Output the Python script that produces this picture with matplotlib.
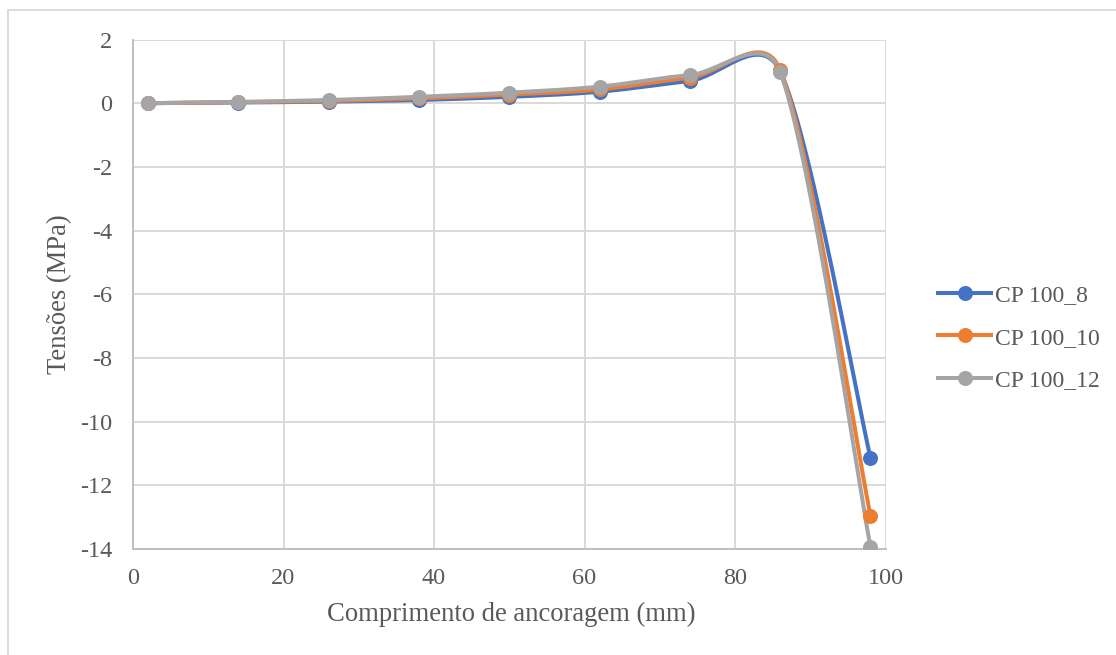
import numpy as np
import matplotlib
matplotlib.use("Agg")
import matplotlib.pyplot as plt
from matplotlib.lines import Line2D
from matplotlib.patches import Rectangle

# Anchorage length positions (mm) and measured stresses (MPa)
comprimento = [2, 14, 26, 38, 50, 62, 74, 86, 98]
cp100_8 = [0.0, 0.02, 0.05, 0.10, 0.20, 0.36, 0.70, 1.00, -11.13]
cp100_10 = [0.0, 0.03, 0.07, 0.15, 0.27, 0.43, 0.80, 1.05, -12.95]
cp100_12 = [0.0, 0.04, 0.10, 0.20, 0.33, 0.52, 0.88, 0.98, -13.93]

series_names = ["CP 100_8", "CP 100_10", "CP 100_12"]
series_colors = ["#4472C4", "#ED7D31", "#A5A5A5"]

x_ticks = [0, 20, 40, 60, 80, 100]
y_ticks = [2, 0, -2, -4, -6, -8, -10, -12, -14]

W, H, DPI = 1116, 655, 100
TEXT = "#595959"
GRID = "#D9D9D9"
FONT = "Liberation Serif"
TICK_SIZE = 17.5
TITLE_SIZE = 19.2
LEGEND_SIZE = 17
LINE_W = 2.9
MARKER = 10.8

fig = plt.figure(figsize=(W / DPI, H / DPI), dpi=DPI)
fig.patch.set_facecolor("white")

# chart frame
fig.patches.append(Rectangle((8 / W, -0.1), 1.2, 1 - 10 / H + 0.1,
                             transform=fig.transFigure, fill=False,
                             edgecolor="#D9D9D9", linewidth=1.3))

left, right, top, bottom = 133, 885.5, 39.5, 549
ax = fig.add_axes([left / W, 1 - bottom / H, (right - left) / W, (bottom - top) / H])
ax.set_xlim(0, 100)
ax.set_ylim(-14, 2)

# pixels per data unit, used so the smoothing works in screen space
sx = (right - left) / 100.0
sy = (bottom - top) / 16.0


def smooth_curve(xs, ys, n=40):
    pts = np.column_stack([np.asarray(xs, float) * sx, np.asarray(ys, float) * sy])
    out = []
    m = len(pts)
    for i in range(m - 1):
        p0 = pts[i - 1] if i > 0 else pts[i]
        p1 = pts[i]
        p2 = pts[i + 1]
        p3 = pts[i + 2] if i + 2 < m else pts[i + 1]
        d12 = np.linalg.norm(p2 - p1)
        d02 = np.linalg.norm(p2 - p0)
        d13 = np.linalg.norm(p3 - p1)
        f0 = 1 / 6 if d02 / 6 < d12 / 2 else (d12 / (2 * d02) if d02 > 0 else 0)
        f1 = 1 / 6 if d13 / 6 < d12 / 2 else (d12 / (2 * d13) if d13 > 0 else 0)
        c1 = p1 + (p2 - p0) * f0
        c2 = p2 - (p3 - p1) * f1
        t = np.linspace(0, 1, n)[:, None]
        seg = ((1 - t) ** 3) * p1 + 3 * ((1 - t) ** 2) * t * c1 + 3 * (1 - t) * t ** 2 * c2 + t ** 3 * p2
        out.append(seg if i == 0 else seg[1:])
    c = np.vstack(out)
    return c[:, 0] / sx, c[:, 1] / sy


for ys, name, col in zip([cp100_8, cp100_10, cp100_12], series_names, series_colors):
    cx, cy = smooth_curve(comprimento, ys)
    ax.plot(cx, cy, color=col, linewidth=LINE_W, solid_capstyle="round", zorder=3)
    ax.plot(comprimento, ys, linestyle="none", marker="o", markersize=MARKER,
            color=col, markeredgewidth=0, zorder=4)

ax.set_xticks(x_ticks)
ax.set_yticks(y_ticks)
ax.set_xticklabels([str(v) for v in x_ticks], fontsize=TICK_SIZE, color=TEXT, family=FONT)
ax.set_yticklabels([str(v) for v in y_ticks], fontsize=TICK_SIZE, color=TEXT, family=FONT)
ax.tick_params(axis="x", length=0, pad=14)
ax.tick_params(axis="y", length=0, pad=15)
ax.grid(True, color=GRID, linewidth=1.4, zorder=0)
ax.set_axisbelow(True)
for s in ["top", "right"]:
    ax.spines[s].set_visible(False)
for s in ["left", "bottom"]:
    ax.spines[s].set_color("#BFBFBF")
    ax.spines[s].set_linewidth(1.4)

ax.set_xlabel("Comprimento de ancoragem (mm)", fontsize=TITLE_SIZE, color=TEXT, family=FONT)
ax.set_ylabel("Tensões (MPa)", fontsize=TITLE_SIZE, color=TEXT, family=FONT)
ax.xaxis.label.set_va("center")
ax.yaxis.label.set_va("center")
ax.xaxis.set_label_coords((511 - left) / (right - left), (bottom - 614) / (bottom - top))
ax.yaxis.set_label_coords((60 - left) / (right - left), (bottom - 294.5) / (bottom - top))

handles = [Line2D([0], [0], color=c, linewidth=LINE_W, marker="o", markersize=MARKER,
                  markeredgewidth=0) for c in series_colors]
fig.legend(handles, series_names, loc="center left",
           bbox_to_anchor=(917 / W, 1 - 338 / H), frameon=False,
           prop={"family": FONT, "size": LEGEND_SIZE}, labelcolor=TEXT,
           handlelength=2.25, handletextpad=0.17, labelspacing=0.89)

fig.savefig("out.png", dpi=DPI, facecolor="white")
